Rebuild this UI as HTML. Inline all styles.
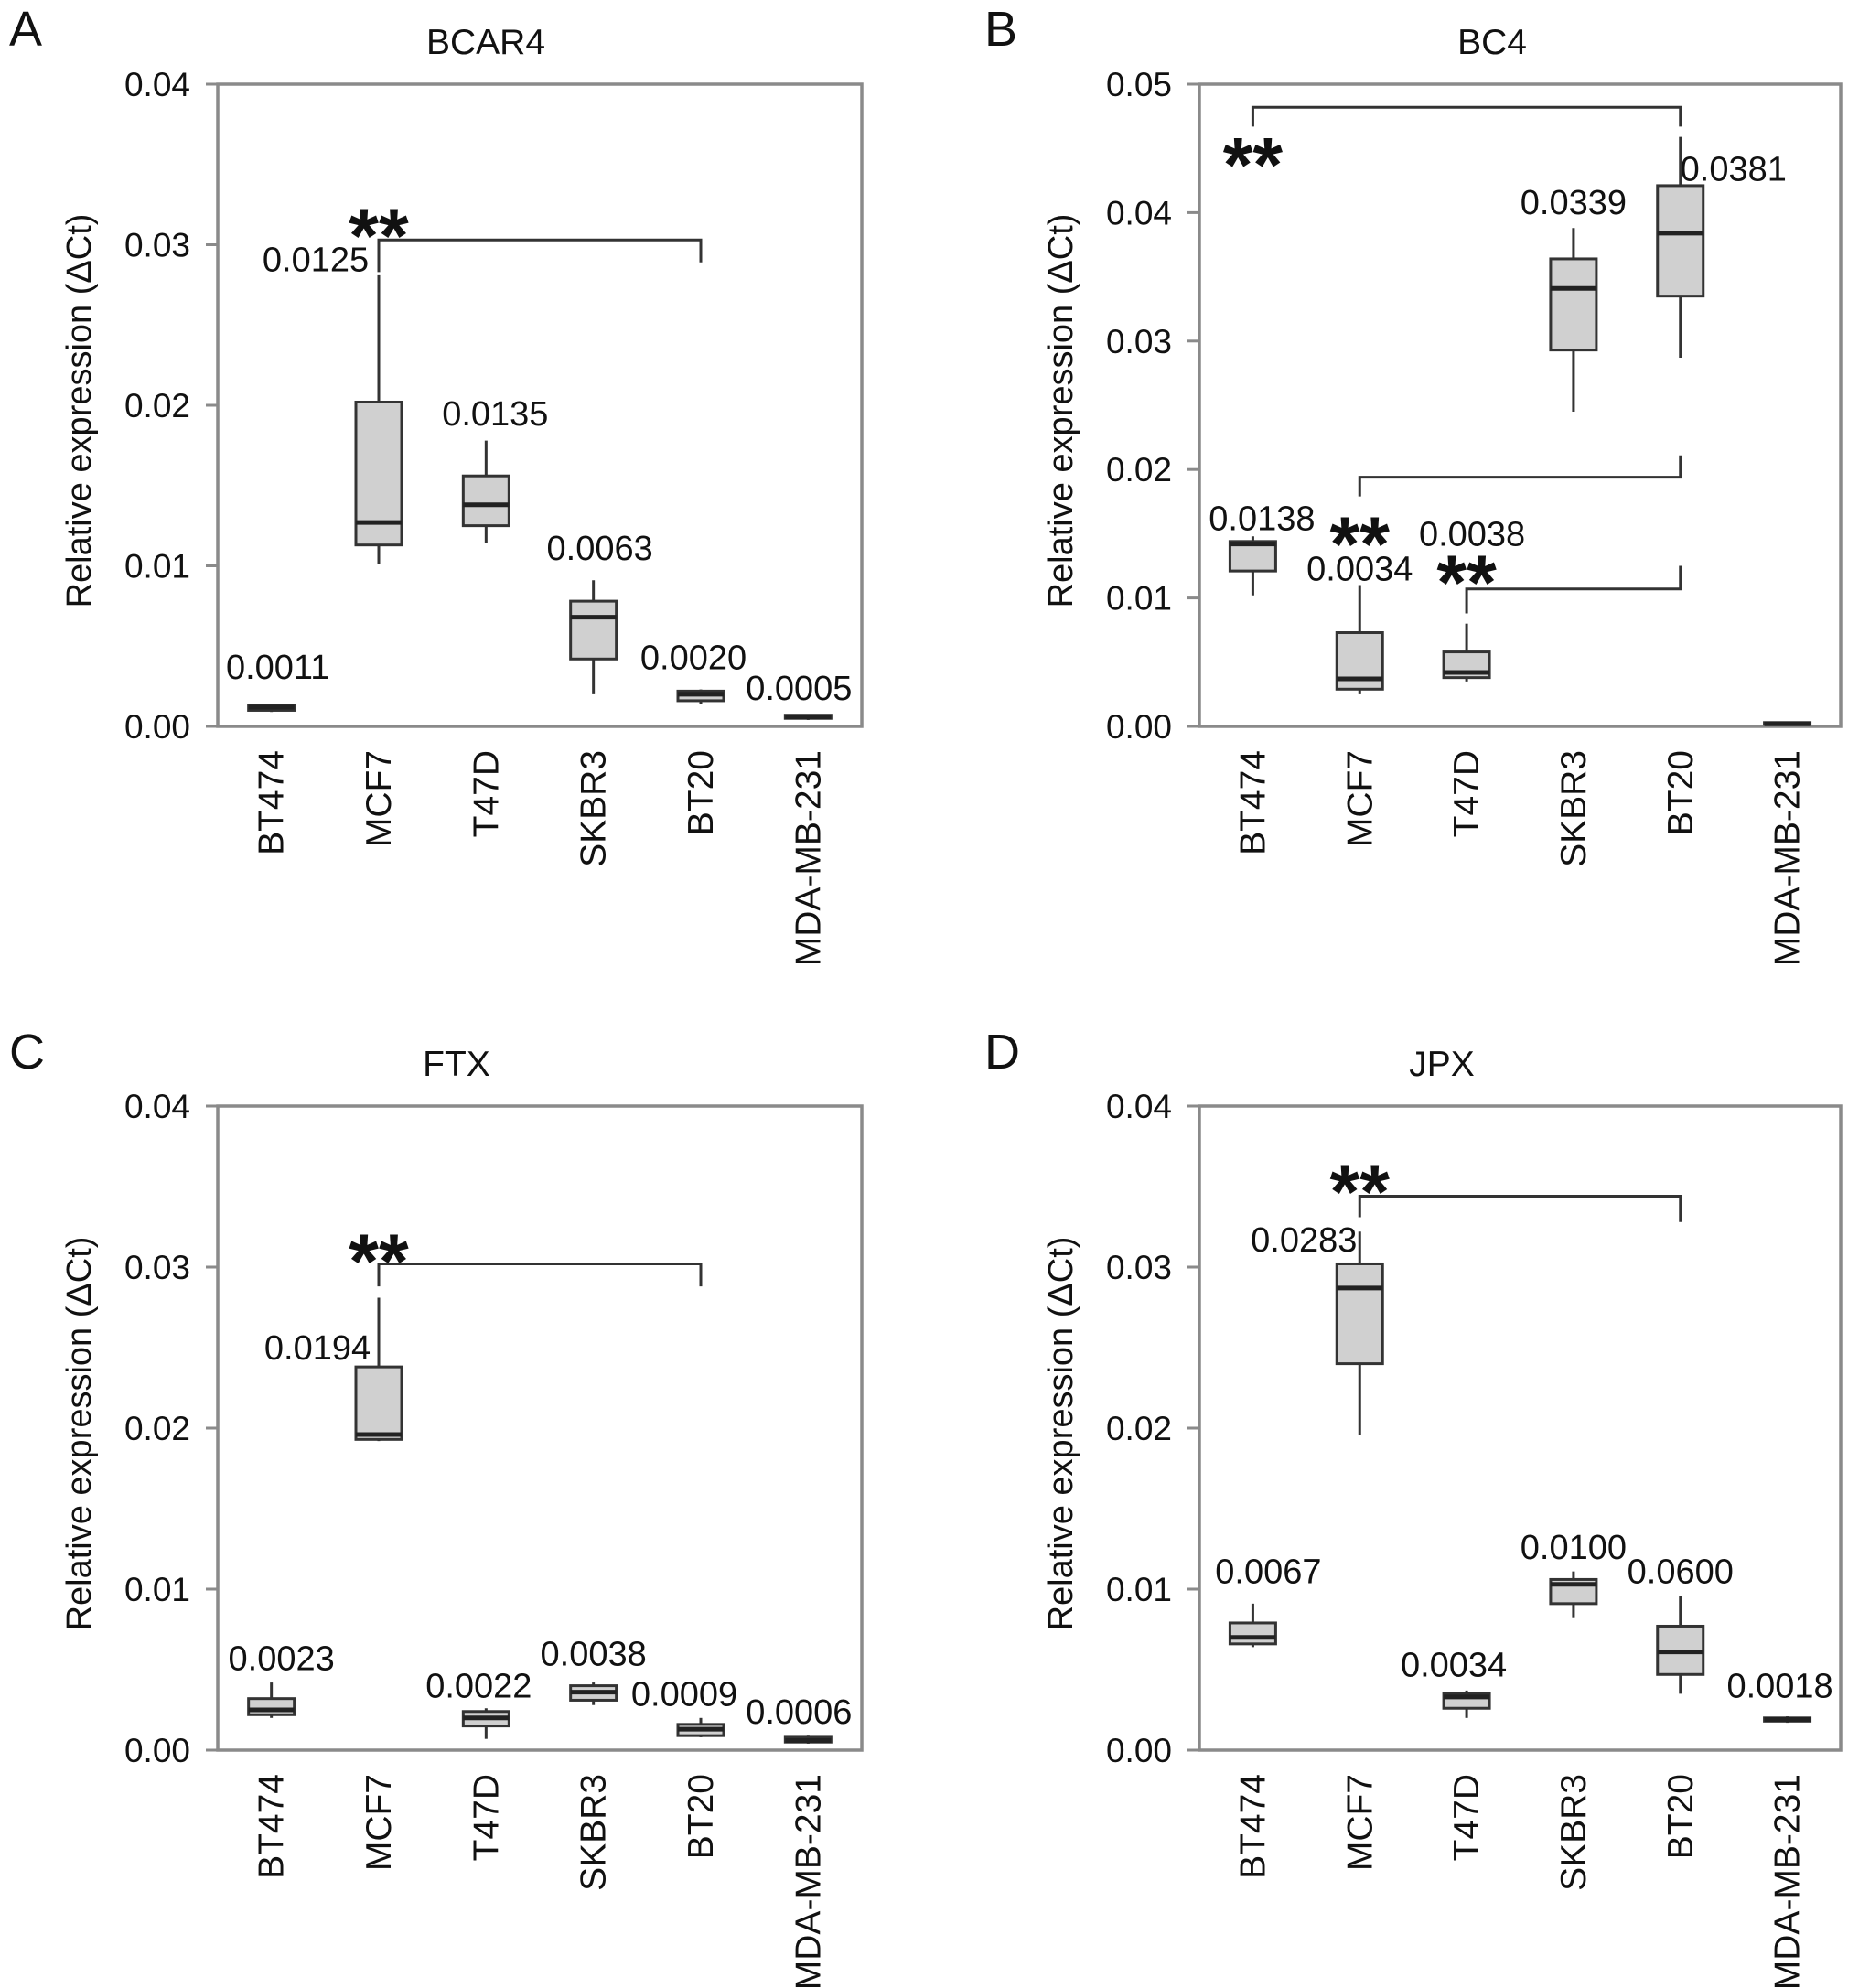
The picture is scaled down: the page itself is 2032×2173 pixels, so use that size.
<!DOCTYPE html>
<html><head><meta charset="utf-8">
<style>
html,body{margin:0;padding:0;background:#fff;}
svg{display:block;font-family:"Liberation Sans",Arial,sans-serif;}
</style></head>
<body>
<svg id="fig" width="2032" height="2173" viewBox="0 0 2032 2173" xmlns="http://www.w3.org/2000/svg"></svg>
<script>
const cats = ["BT474","MCF7","T47D","SKBR3","BT20","MDA-MB-231"];
// Panel A BCAR4
const lowA  = [0.0009,0.0101,0.0114,0.0020,0.0014,0.0004];
const q1A   = [0.0010,0.0113,0.0125,0.0042,0.0016,0.0005];
const medA  = [0.0012,0.0127,0.0138,0.0068,0.0020,0.0006];
const q3A   = [0.0013,0.0202,0.0156,0.0078,0.0022,0.0007];
const highA = [0.0014,0.0281,0.0178,0.0091,0.0023,0.0007];
const labA  = ["0.0011","0.0125","0.0135","0.0063","0.0020","0.0005"];
const labYA = [0.0037,0.0291,0.0195,0.0111,0.0043,0.0024];
const labDxA= [7,-69,10,7,-8,-10];
// Panel B BC4
const lowB  = [0.0102,0.0025,0.0035,0.0245,0.0287,0.0001];
const q1B   = [0.0121,0.0029,0.0038,0.0293,0.0335,0.0002];
const medB  = [0.0142,0.0037,0.0042,0.0341,0.0384,0.0002];
const q3B   = [0.0144,0.0073,0.0058,0.0364,0.0421,0.0003];
const highB = [0.0148,0.0110,0.0080,0.0388,0.0459,0.0003];
const labB  = ["0.0138","0.0034","0.0038","0.0339","0.0381",""];
const labYB = [0.0162,0.0123,0.0150,0.0408,0.0434,0];
const labDxB= [10,0,6,0,58,0];
// Panel C FTX
const lowC  = [0.0020,0.0192,0.0007,0.0028,0.0008,0.0004];
const q1C   = [0.0022,0.0193,0.0015,0.0031,0.0009,0.0005];
const medC  = [0.0025,0.0196,0.0020,0.0036,0.0013,0.0006];
const q3C   = [0.0032,0.0238,0.0024,0.0040,0.0016,0.0008];
const highC = [0.0042,0.0281,0.0026,0.0042,0.0020,0.0009];
const labC  = ["0.0023","0.0194","0.0022","0.0038","0.0009","0.0006"];
const labYC = [0.0057,0.0250,0.0040,0.0060,0.0035,0.0024];
const labDxC= [11,-67,-8,0,-18,-10];
// Panel D JPX
const lowD  = [0.0064,0.0196,0.0020,0.0082,0.0035,0.0017];
const q1D   = [0.0066,0.0240,0.0026,0.0091,0.0047,0.0018];
const medD  = [0.0070,0.0287,0.0033,0.0103,0.0061,0.0019];
const q3D   = [0.0079,0.0302,0.0035,0.0106,0.0077,0.0020];
const highD = [0.0091,0.0322,0.0037,0.0111,0.0096,0.0021];
const labD  = ["0.0067","0.0283","0.0034","0.0100","0.0600","0.0018"];
const labYD = [0.0111,0.0317,0.0053,0.0126,0.0111,0.0040];
const labDxD= [17,-61,-14,0,0,-8];
const ticks4 = ["0.00","0.01","0.02","0.03","0.04"];
const ticks5 = ["0.00","0.01","0.02","0.03","0.04","0.05"];
// brackets: [fromCat,toCat,levelY,leftEndY,rightEndY]
const brA = [[1,4,0.0303,0.0283,0.0289]];
const starsA = [[1,0.0312]];
const brB = [[0,4,0.0482,0.0467,0.0467],[1,4,0.0194,0.0179,0.0211],[2,4,0.0107,0.0088,0.0125]];
const starsB = [[0,0.0445],[1,0.0150],[2,0.0120]];
const brC = [[1,4,0.0302,0.0288,0.0288]];
const starsC = [[1,0.0310]];
const brD = [[1,4,0.0344,0.0331,0.0328]];
const starsD = [[1,0.0353]];

const NS="http://www.w3.org/2000/svg";
const svg=document.getElementById('fig');
function mk(tag,attrs,parent,txt){const e=document.createElementNS(NS,tag);for(const k in attrs)e.setAttribute(k,attrs[k]);if(txt!==undefined)e.textContent=txt;(parent||svg).appendChild(e);return e;}

function panel(p){
  const g=mk('g',{});
  
  
  const L=p.x0,R=p.x1,T=p.y0,B=p.y1;
  const y=v=>B-(v/p.ymax)*(B-T);
  const x=i=>L+(i+0.5)*(R-L)/cats.length;
  const let_=mk('text',{x:p.lx,y:p.ly,'font-size':54,fill:'#111'},g,p.letter);
  
  
  const t=mk('text',{x:p.tx,y:T-33,'font-size':39,'text-anchor':'middle',fill:'#111'},g,p.title);
  
  
  const fr=mk('rect',{x:L,y:T,width:R-L,height:B-T,fill:'none',stroke:'#8a8a8a','stroke-width':3.5},g);
  
  
  p.ticks.forEach((s,i)=>{
    const v=i*0.01;
    const tk=mk('line',{x1:L-13,x2:L,y1:y(v),y2:y(v),stroke:'#8a8a8a','stroke-width':3},g);
    
    
    const tl=mk('text',{x:L-30,y:y(v)+13,'font-size':37,'text-anchor':'end',fill:'#111'},g,s);
    
    
  });
  const yt=mk('text',{x:0,y:0,'font-size':38,'text-anchor':'middle',fill:'#111',transform:`translate(${L-139},${(T+B)/2+6}) rotate(-90)`},g,'Relative expression (\u0394Ct)');
  
  
  const bw=50;
  cats.forEach((c,i)=>{
    const cx=x(i);
    const cl=mk('text',{x:0,y:0,'font-size':39,'text-anchor':'end',fill:'#111',transform:`translate(${cx+13},${B+26}) rotate(-90)`},g,c);
    
    
    const w=mk('line',{x1:cx,x2:cx,y1:y(p.low[i]),y2:y(p.high[i]),stroke:'#333','stroke-width':3},g);
    
    
    const bx=mk('rect',{x:cx-bw/2,y:y(p.q3[i]),width:bw,height:Math.max(2,y(p.q1[i])-y(p.q3[i])),fill:'#d0d0d0',stroke:'#333','stroke-width':3},g);
    
    
    const md=mk('line',{x1:cx-bw/2,x2:cx+bw/2,y1:y(p.med[i]),y2:y(p.med[i]),stroke:'#222','stroke-width':5},g);
    
    
    if(p.lab[i]){
      const lb=mk('text',{x:cx+p.labDx[i],y:y(p.labY[i])+13,'font-size':38,'text-anchor':'middle',fill:'#111'},g,p.lab[i]);
      
      
    }
  });
  p.br.forEach(b=>{
    const d=`M${x(b[0])},${y(b[3])} L${x(b[0])},${y(b[2])} L${x(b[1])},${y(b[2])} L${x(b[1])},${y(b[4])}`;
    const br=mk('path',{d:d,fill:'none',stroke:'#333','stroke-width':3},g);
    
    
  });
  p.stars.forEach(s=>{
    const st=mk('text',{x:x(s[0]),y:y(s[1])+40,'font-size':84,'font-weight':'bold','text-anchor':'middle',fill:'#111'},g,'**');
    
    
  });
}
panel({id:'A',letter:'A',title:'BCAR4',tx:531,x0:238,x1:942,y0:92,y1:794,ymax:0.04,ticks:ticks4,lx:10,ly:50,
  low:lowA,q1:q1A,med:medA,q3:q3A,high:highA,lab:labA,labY:labYA,labDx:labDxA,br:brA,stars:starsA});
panel({id:'B',letter:'B',title:'BC4',tx:1631,x0:1311,x1:2012,y0:92,y1:794,ymax:0.05,ticks:ticks5,lx:1076,ly:50,
  low:lowB,q1:q1B,med:medB,q3:q3B,high:highB,lab:labB,labY:labYB,labDx:labDxB,br:brB,stars:starsB});
panel({id:'C',letter:'C',title:'FTX',tx:499,x0:238,x1:942,y0:1209,y1:1913,ymax:0.04,ticks:ticks4,lx:10,ly:1168,
  low:lowC,q1:q1C,med:medC,q3:q3C,high:highC,lab:labC,labY:labYC,labDx:labDxC,br:brC,stars:starsC});
panel({id:'D',letter:'D',title:'JPX',tx:1576,x0:1311,x1:2012,y0:1209,y1:1913,ymax:0.04,ticks:ticks4,lx:1076,ly:1168,
  low:lowD,q1:q1D,med:medD,q3:q3D,high:highD,lab:labD,labY:labYD,labDx:labDxD,br:brD,stars:starsD});
</script>
</body></html>
